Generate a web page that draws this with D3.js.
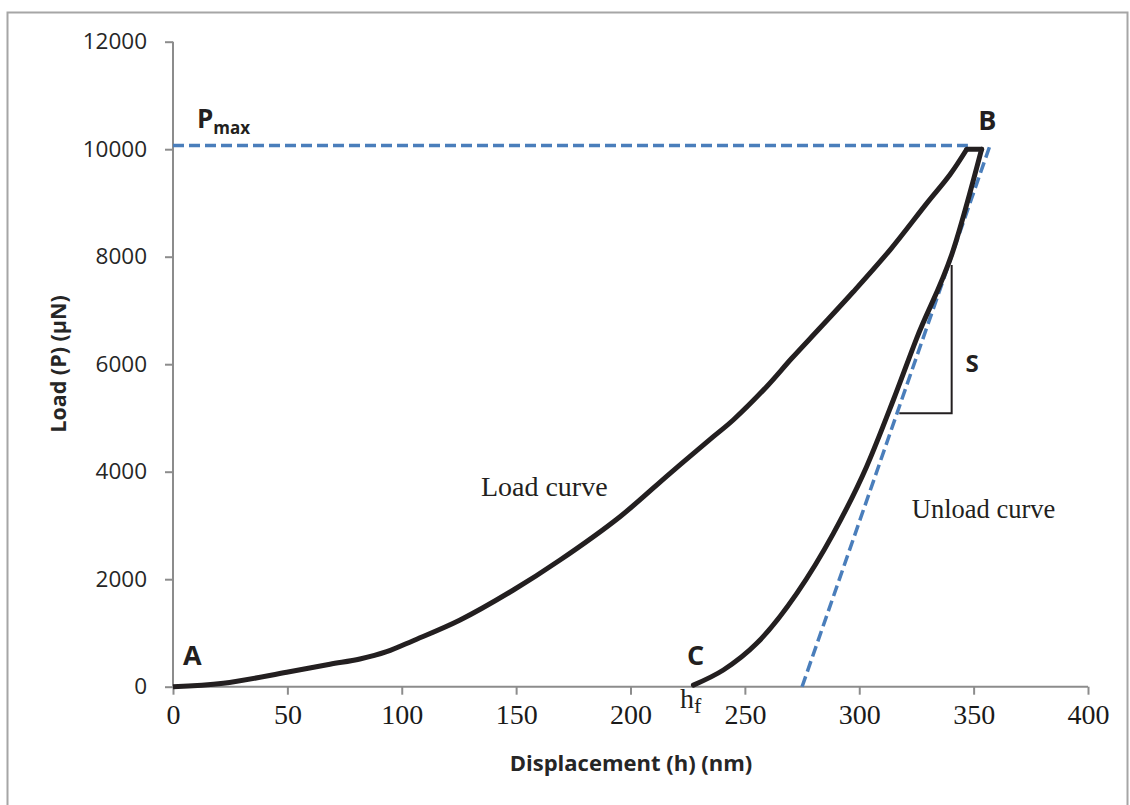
<!DOCTYPE html>
<html>
<head>
  <title>Load-displacement curve</title>
  <meta charset="utf-8">
  <style>
  body { margin: 0; background: #fff; }
  .ytick text { font-family: "Open Sans", sans-serif; font-size: 22.5px; fill: #262626; }
  .xtick text { font-family: "Liberation Serif", "Times New Roman", serif; font-size: 28px; fill: #1a1a1a; }
  .axis-title { font-family: "Open Sans", sans-serif; font-weight: bold; fill: #262626; }
  .pt { font-family: "Open Sans", sans-serif; font-weight: bold; fill: #231f20; }
  .note { font-family: "Liberation Serif", "Times New Roman", serif; fill: #231f20; }
  </style>
</head>
<body>
<svg width="1130" height="805"></svg>
<script src="https://d3js.org/d3.v7.min.js"></script>
<script>

// axis ticks
var xTicks = [0, 50, 100, 150, 200, 250, 300, 350, 400];
var yTicks = [0, 2000, 4000, 6000, 8000, 10000, 12000];

// loading branch A -> B (nm, uN)
var loadX = [0, 22, 49.7, 68.6, 81.7, 93.4, 105, 125.5, 148.8, 169.2, 195.4, 217.3, 236.2, 244.9, 259.5, 270.5, 282.8, 297.3, 313.4, 329.5, 339.7, 347];
var loadY = [0, 63, 268, 417, 515, 651, 856, 1241, 1799, 2357, 3163, 3970, 4651, 4962, 5581, 6110, 6673, 7343, 8124, 8993, 9530, 10000];

// hold at peak load
var holdX = [347, 353.5];
var holdY = [10000, 10000];

// unloading branch C -> B
var unloadX = [227.5, 240.6, 255.2, 272.7, 288.7, 303.2, 314.9, 325.1, 341.1, 353.5];
var unloadY = [30, 311, 807, 1737, 2853, 4093, 5334, 6481, 8124, 10000];

// stiffness tangent and Pmax line
var tangentX = [275, 357];
var tangentY = [0, 10050];
var pmaxX = [0, 347.5];
var pmaxY = [10070, 10070];

// slope triangle for S
var triX = [317.5, 340.4, 340.4];
var triY = [5086, 5086, 7846];

var svg = d3.select("svg");

var x = d3.scaleLinear().domain([0, 400]).range([173, 1088]);
var y = d3.scaleLinear().domain([0, 12000]).range([686.7, 41.7]);

// outer frame
svg.append("rect")
    .attr("x", 7.5).attr("y", 12.5)
    .attr("width", 1120).attr("height", 800)
    .attr("fill", "none")
    .attr("stroke", "#a6a6a6")
    .attr("stroke-width", 2);

var xAxis = svg.append("g")
    .attr("class", "xtick")
    .attr("transform", "translate(0," + y(0) + ")")
    .call(d3.axisBottom(x).tickValues(xTicks).tickSize(8).tickPadding(9).tickFormat(d3.format("d")));

var yAxis = svg.append("g")
    .attr("class", "ytick")
    .attr("transform", "translate(" + x(0) + ",0)")
    .call(d3.axisLeft(y).tickValues(yTicks).tickSize(8).tickPadding(18).tickFormat(d3.format("d")));

svg.selectAll(".domain").attr("stroke", "#8c8c8c").attr("stroke-width", 2);
svg.selectAll(".tick line").attr("stroke", "#8c8c8c").attr("stroke-width", 2);
xAxis.selectAll(".domain").attr("d", "M" + x(0) + ",0H" + x(400));
yAxis.selectAll(".domain").attr("d", "M0," + y(12000) + "V" + y(0));
xAxis.selectAll("text").attr("font-size", null).attr("font-family", null);
yAxis.selectAll("text").attr("font-size", null).attr("font-family", null);

function pairs(xs, ys) {
  return xs.map(function(v, i) { return [v, ys[i]]; });
}

var line = d3.line()
    .x(function(d) { return x(d[0]); })
    .y(function(d) { return y(d[1]); });

// dashed helper lines
svg.append("path")
    .attr("d", line(pairs(pmaxX, pmaxY)))
    .attr("fill", "none")
    .attr("stroke", "#4a7ebb")
    .attr("stroke-width", 3.5)
    .attr("stroke-dasharray", "11,5");

svg.append("path")
    .attr("d", line(pairs(tangentX, tangentY)))
    .attr("fill", "none")
    .attr("stroke", "#4a7ebb")
    .attr("stroke-width", 3.5)
    .attr("stroke-dasharray", "11,5");

// curves
svg.append("path")
    .attr("d", line.curve(d3.curveCatmullRom.alpha(0.5))(pairs(loadX, loadY)))
    .attr("fill", "none")
    .attr("stroke", "#231f20")
    .attr("stroke-width", 5)
    .attr("stroke-linejoin", "round");

svg.append("path")
    .attr("d", line.curve(d3.curveLinear)(pairs(holdX, holdY)))
    .attr("fill", "none")
    .attr("stroke", "#231f20")
    .attr("stroke-width", 5)
    .attr("stroke-linecap", "round");

svg.append("path")
    .attr("d", line.curve(d3.curveMonotoneX)(pairs(unloadX, unloadY)))
    .attr("fill", "none")
    .attr("stroke", "#231f20")
    .attr("stroke-width", 5)
    .attr("stroke-linecap", "round")
    .attr("stroke-linejoin", "round");

svg.append("path")
    .attr("d", line.curve(d3.curveLinear)(pairs(triX, triY)))
    .attr("fill", "none")
    .attr("stroke", "#231f20")
    .attr("stroke-width", 2);

// axis titles
svg.append("text")
    .attr("class", "axis-title")
    .attr("x", 631).attr("y", 771)
    .attr("text-anchor", "middle")
    .attr("font-size", 22)
    .text("Displacement (h) (nm)");

svg.append("text")
    .attr("class", "axis-title")
    .attr("transform", "translate(66,364) rotate(-90)")
    .attr("text-anchor", "middle")
    .attr("font-size", 21.5)
    .text("Load (P) (μN)");

// point labels
var points = [
  {t: "A", x: 4.4, y: 404},
  {t: "B", x: 352, y: 10356},
  {t: "C", x: 224.7, y: 404},
  {t: "S", x: 346.5, y: 5860}
];
svg.selectAll(".pt").data(points).enter().append("text")
    .attr("class", "pt")
    .attr("x", function(d) { return x(d.x); })
    .attr("y", function(d) { return y(d.y); })
    .attr("font-size", function(d) { return d.t == "S" ? 24 : 27; })
    .text(function(d) { return d.t; });

var pm = svg.append("text")
    .attr("class", "pt")
    .attr("x", x(10.5)).attr("y", y(10394))
    .attr("font-size", 26);
pm.append("tspan").text("P");
pm.append("tspan").attr("font-size", 17).attr("dy", 6).text("max");

var hf = svg.append("text")
    .attr("class", "note")
    .attr("x", x(221.6)).attr("y", y(-396))
    .attr("font-size", 28);
hf.append("tspan").text("h");
hf.append("tspan").attr("font-size", 22).attr("dy", 5).text("f");

svg.append("text")
    .attr("class", "note")
    .attr("x", x(134.6)).attr("y", y(3548))
    .attr("font-size", 28)
    .text("Load curve");

svg.append("text")
    .attr("class", "note")
    .attr("x", x(323)).attr("y", y(3139))
    .attr("font-size", 26.5)
    .text("Unload curve");

</script>
</body>
</html>
